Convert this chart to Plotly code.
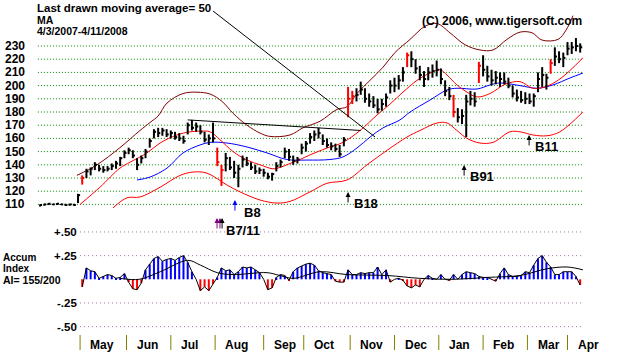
import plotly.graph_objects as go

W, H = 631, 352

# ---------------- data (trading-day index) ----------------
bar_day = list(range(0, 257, 2))
bar_low = [108.5, 109, 109.5, 109.5, 109.5, 109.5, 109, 109, 109, 111,
           125, 130, 132, 136, 135, 134, 135, 136, 137, 139,
           145, 148, 145, 136, 141, 145, 153, 160, 161, 162,
           161, 160, 159, 158, 156, 163, 166, 165, 163, 157,
           155, 157, 139, 124, 135, 136, 130, 123, 138, 139,
           136, 133, 133, 131, 129, 128, 135, 138, 145, 143,
           140, 141, 148, 150, 156, 158, 160, 155, 153, 151,
           150, 146, 154, 176, 186, 188, 193, 187, 184, 183,
           179, 181, 184, 194, 195, 197, 203, 214, 214, 209,
           204, 199, 204, 206, 207, 201, 192, 189, 176, 172,
           171, 161, 185, 184, 202, 207, 203, 200, 201, 199,
           201, 198, 191, 188, 187, 186, 186, 184, 195, 199,
           197, 209, 215, 217, 214, 223, 224, 226, 225]
bar_high = [110, 110.5, 111, 110.5, 111, 110.5, 110.5, 110.5, 110.5, 118,
            132, 137, 138, 142, 140, 139, 139, 141, 143, 146,
            151, 153, 151, 145, 147, 152, 160, 167, 168, 168,
            167, 166, 165, 164, 162, 172, 174, 172, 170, 165,
            163, 172, 153, 140, 149, 146, 143, 140, 147, 146,
            142, 140, 138, 137, 134, 134, 142, 144, 153, 152,
            147, 146, 156, 158, 164, 166, 168, 163, 160, 157,
            156, 155, 161, 199, 196, 198, 203, 198, 194, 192,
            190, 190, 194, 204, 206, 208, 214, 225, 226, 220,
            215, 211, 214, 216, 219, 213, 204, 199, 193, 183,
            182, 193, 196, 195, 218, 223, 215, 212, 211, 210,
            210, 206, 200, 197, 196, 195, 194, 194, 210, 214,
            209, 220, 229, 226, 225, 233, 233, 236, 232]
bar_close = [109.5, 110, 110.5, 110, 110.5, 110, 109.5, 110, 109.5, 117,
             130, 135, 137, 140, 137, 136, 137, 139, 141, 145,
             149, 151, 147, 140, 145, 150, 158, 165, 164, 166,
             163, 164, 161, 160, 158, 170, 168, 169, 165, 159,
             160, 160, 142, 136, 145, 138, 134, 137, 144, 141,
             138, 135, 136, 134, 131, 133, 139, 142, 150, 146,
             143, 144, 153, 156, 161, 163, 164, 158, 155, 154,
             152, 148, 159, 190, 192, 193, 197, 190, 188, 185,
             182, 186, 191, 200, 200, 204, 210, 223, 220, 213,
             208, 205, 210, 211, 212, 205, 196, 192, 180, 176,
             177, 188, 190, 188, 215, 212, 207, 204, 206, 205,
             203, 200, 194, 191, 189, 190, 188, 192, 205, 208,
             206, 217, 222, 220, 221, 228, 229, 230, 229]
red_days = [20, 84, 86, 146, 148, 174, 196, 208, 242]

ma21_day = [19, 28.4, 37.9, 42.7, 50.7, 56.9, 64.9, 71.1, 75.8, 80.6, 85.3, 91.5,
            98.1, 104.3, 110.4, 113.7, 118.5, 123.2, 128, 136, 143.6, 151.7, 159.7,
            165.9, 172, 178.7, 184.8, 189.6, 192.9, 197.6, 202.4, 207.1, 213.3,
            220.4, 227.5, 233.6, 239.3, 246.4, 257.3]
ma21_val = [110, 123, 137.5, 142, 149, 156.5, 162.6, 165, 165.5, 165, 159, 150,
            143.6, 140, 137, 138, 141, 144, 147.5, 152.7, 157, 166, 177.7,
            186, 195, 204, 209.5, 212, 208, 200.5, 195, 191.4, 194,
            201, 203, 198, 199, 205, 221]

ma50_day = [46, 52.1, 60.2, 67.8, 75.8, 80.6, 88.6, 98.1, 107.6, 117, 126.5, 137.4,
            143.6, 150.2, 156.4, 162.6, 170.6, 175.4, 184.8, 192.9, 197.6, 207.1,
            213.3, 218, 227.5, 235.5, 243.1, 251.2, 257.3]
ma50_val = [128.5, 130.7, 137.5, 149, 155, 157, 156.5, 153.5, 149, 144, 143.6, 144,
            146, 152.7, 161, 168, 174, 180, 189, 196.7, 198, 197.4,
            200.5, 202, 200, 198, 200.5, 205.8, 209.5]

upper_day = [17.5, 27, 37.9, 47.4, 52.1, 56, 60.2, 67.8, 74.4, 80.6, 86.3, 91.5,
             98.1, 104.3, 109, 118.5, 124.6, 132.7, 140.8, 145.5, 150.2, 156.4,
             162.6, 168.2, 175.4, 182.5, 188.2, 194.3, 201.4, 208.5, 214.7, 221.3,
             227.5, 233.2, 237.9, 245.5, 249.3, 252.6]
upper_val = [132, 140, 153, 166, 172, 177, 186.8, 194, 195, 193.6, 188, 179,
             170, 164, 161.5, 162.6, 168, 173, 182, 184, 194, 204,
             214, 225, 235, 245, 247, 240, 231, 227, 227, 235,
             240.5, 240, 234.5, 235, 242, 253]

lower_day = [34.6, 41.2, 47.4, 56.9, 66.4, 72.5, 79.1, 88.6, 94.8, 104.3, 112.3,
             118.5, 128, 136, 145.5, 155, 164.5, 173.9, 180.1, 188.2, 192.9,
             197.6, 202.4, 208.5, 214.7, 222.7, 227.5, 233.6, 240.3, 246.4, 257.3]
lower_val = [107.3, 115, 115.6, 123, 132, 134.5, 133.7, 124.7, 119.5, 113.3, 111,
             112.3, 119.5, 126, 128.5, 140, 151, 161, 166, 171.7, 171.7,
             166, 160, 156.5, 157, 165, 165, 162.6, 162, 165, 180]

trend_day = [70, 152]
trend_val = [174, 166]

price_ticks = [230, 220, 210, 200, 190, 180, 170, 160, 150, 140, 130, 120, 110]

ai_day = list(range(20, 257, 2))
ai_val = [-0.08, 0.12, 0.09, 0.08, 0.01, 0.03, 0.05, 0.04, 0.01, 0.02,
          0.06, -0.03, -0.10, -0.11, -0.04, 0.10, 0.16, 0.22, 0.24, 0.19,
          0.21, 0.22, 0.20, 0.23, 0.25, 0.18, 0.08, 0.00, -0.12, -0.08,
          -0.12, -0.05, 0.02, 0.12, 0.09, 0.10, 0.05, 0.08, 0.13, 0.12,
          0.13, 0.10, 0.07, 0.00, -0.11, -0.09, 0.02, 0.05, 0.04, -0.01,
          0.08, 0.12, 0.14, 0.16, 0.17, 0.15, 0.09, 0.07, 0.06, 0.05,
          -0.02, -0.03, -0.03, 0.10, 0.05, 0.05, 0.07, 0.06, 0.07, 0.07,
          0.13, 0.05, 0.10, -0.03, 0.00, 0.01, -0.01, -0.07, -0.09, -0.06,
          -0.08, 0.00, 0.04, 0.01, 0.00, 0.05, 0.00, -0.01, 0.05, 0.00,
          0.05, 0.08, 0.07, 0.06, 0.03, 0.02, 0.02, 0.00, -0.02, 0.06,
          0.12, 0.05, 0.03, 0.03, 0.04, 0.08, 0.07, 0.15, 0.22, 0.25,
          0.18, 0.13, 0.05, 0.05, 0.08, 0.08, 0.08, 0.03, -0.06]

ai_ma_day = [38, 47, 57, 70, 76, 84, 91.5, 107.6, 113.7, 120, 132.7, 145.5,
             164.5, 180, 195.7, 212, 227.5, 240, 249.8, 257.3]
ai_ma_val = [0.01, 0.0, 0.08, 0.20, 0.15, 0.07, 0.05, 0.07, 0.04, 0.01, 0.08, 0.05,
             0.04, 0.01, 0.0, 0.02, 0.04, 0.11, 0.13, 0.10]

ai_ticks = [0.50, 0.25, -0.25, -0.50]
ai_tick_text = ["+.50", "+.25", "-.25", "-.50"]

month_names = ["May", "Jun", "Jul", "Aug", "Sep", "Oct", "Nov", "Dec", "Jan", "Feb", "Mar", "Apr"]
month_start_day = [19, 41, 62, 83, 106, 125, 147, 168, 189, 210, 231, 250]

signal_day = [83.9, 85.3, 86.3, 92.4, 146, 201, 231.8]
signal_level = [99.7, 99.7, 99.7, 113.3, 119.4, 139.8, 162.6]
signal_color = ["#800080", "#800080", "#000000", "#0000ff", "#000000", "#000000", "#000000"]
label_text = ["B7/11", "B8", "B18", "B91", "B11"]
label_day = [87.7, 96.2, 148.3, 203.3, 234.1]
label_level = [90.6, 104.2, 111.0, 130.8, 153.5]

# ---------------- geometry ----------------
PX0, PXD = 40.0, 2.11            # pixel of day 0, pixels per day
PY230, PYU = 46.0, 1.32          # pixel of 230, pixels per price unit
AY0, AYU = 279.3, 94.7           # pixel of AI zero, pixels per AI unit
FONT = "Liberation Sans, Arial, sans-serif"

xr = [-PX0 / PXD, (W - PX0) / PXD]
yr = [230 - (H - PY230) / PYU, 230 + PY230 / PYU]
y2r = [(AY0 - H) / AYU, AY0 / AYU]

def py(p):  # pixel y -> paper
    return 1 - p / H

fig = go.Figure()

# price gridlines
gx, gy = [], []
for t in price_ticks:
    gx += [-1, 257.3, None]
    gy += [t, t, None]
fig.add_trace(go.Scatter(x=gx, y=gy, mode="lines",
                         line=dict(color="#008000", width=1, dash="1px,2px")))
# AI gridlines
ax_, ay_ = [], []
for t in ai_ticks:
    ax_ += [19, 257.3, None]
    ay_ += [t, t, None]
fig.add_trace(go.Scatter(x=ax_, y=ay_, yaxis="y2", mode="lines",
                         line=dict(color="#a070a0", width=1, dash="1px,3px")))

# bands and averages
fig.add_trace(go.Scatter(x=upper_day, y=upper_val, mode="lines",
                         line=dict(color="#800000", width=1, shape="spline")))
fig.add_trace(go.Scatter(x=lower_day, y=lower_val, mode="lines",
                         line=dict(color="#ff0000", width=1, shape="spline")))
fig.add_trace(go.Scatter(x=ma50_day, y=ma50_val, mode="lines",
                         line=dict(color="#0000ff", width=1, shape="spline")))
fig.add_trace(go.Scatter(x=ma21_day, y=ma21_val, mode="lines",
                         line=dict(color="#ff0000", width=1, shape="spline")))
fig.add_trace(go.Scatter(x=trend_day, y=trend_val, mode="lines",
                         line=dict(color="#000000", width=1)))

# price bars
def bar_path(red):
    xs, ys = [], []
    for d, lo, hi, c in zip(bar_day, bar_low, bar_high, bar_close):
        if (d in red_days) != red:
            continue
        xs += [d, d, None, d, d + 1.0, None]
        ys += [lo, hi, None, c, c, None]
    return xs, ys

bx, by = bar_path(False)
fig.add_trace(go.Scatter(x=bx, y=by, mode="lines", line=dict(color="#000000", width=2)))
rx, ry = bar_path(True)
fig.add_trace(go.Scatter(x=rx, y=ry, mode="lines", line=dict(color="#ff0000", width=2)))

# accumulation index histogram (vertical stripes)
ai_colors = ["#0000ff" if v >= 0 else "#ff0000" for v in ai_val]
fig.add_trace(go.Bar(x=ai_day, y=ai_val, yaxis="y2", width=0.95,
                     marker=dict(color=ai_colors, line=dict(width=0))))
fig.add_trace(go.Scatter(x=ai_day, y=ai_val, yaxis="y2", mode="lines",
                         line=dict(color="#000000", width=1)))
fig.add_trace(go.Scatter(x=ai_ma_day, y=ai_ma_val, yaxis="y2", mode="lines",
                         line=dict(color="#000000", width=1, shape="spline")))

annotations = []
def txt(text, x, y, xref="paper", yref="paper", xanchor="left", size=12):
    annotations.append(dict(text="<b>%s</b>" % text, x=x, y=y, xref=xref, yref=yref,
                            xanchor=xanchor, yanchor="middle", showarrow=False,
                            font=dict(family=FONT, size=size, color="#000000"),
                            borderpad=0))

txt("Last drawn moving average= 50", 36 / W, py(7.5), size=11.5)
txt("MA", 36 / W, py(19.5), size=10.5)
txt("4/3/2007-4/11/2008", 36 / W, py(31), size=10.5)
txt("(C) 2006, www.tigersoft.com", 421 / W, py(21.5), size=12)
for t in price_ticks:
    txt(str(t), 4 / W, t, yref="y", size=12)
for t, s in zip(ai_ticks, ai_tick_text):
    txt(s, 78 / W, t, yref="y2", xanchor="right", size=11.5)
txt("Accum", 2 / W, py(257.5), size=10)
txt("Index", 2 / W, py(268.5), size=10)
txt("AI= 155/200", 2 / W, py(279.5), size=10.5)
for name, d in zip(month_names, month_start_day):
    txt(name, d + 4.4, py(345), xref="x")

# signals
for d, lv, col in zip(signal_day, signal_level, signal_color):
    annotations.append(dict(x=d, y=lv, xref="x", yref="y", text="", showarrow=True,
                            ax=0, ay=12, arrowhead=2, arrowsize=1, arrowwidth=1,
                            arrowcolor=col))
for s, d, lv in zip(label_text, label_day, label_level):
    txt(s, d, lv, xref="x", yref="y", size=13)

shapes = []
for d in month_start_day:
    shapes.append(dict(type="line", xref="x", yref="paper", x0=d, x1=d,
                       y0=py(350), y1=py(335), line=dict(color="#808000", width=1)))
shapes.append(dict(type="line", xref="x", yref="y", x0=82.0, y0=256.5, x1=158.8, y1=161.06,
                   line=dict(color="#000000", width=1)))

fig.update_layout(
    width=W, height=H, autosize=False,
    margin=dict(l=0, r=0, t=0, b=0, pad=0),
    paper_bgcolor="white", plot_bgcolor="white",
    showlegend=False, hovermode=False,
    xaxis=dict(range=xr, visible=False, fixedrange=True),
    yaxis=dict(range=yr, visible=False, fixedrange=True, domain=[0, 1]),
    yaxis2=dict(range=y2r, visible=False, fixedrange=True, overlaying="y"),
    annotations=annotations, shapes=shapes,
)

fig.write_html("out.html", config={"displayModeBar": False})
